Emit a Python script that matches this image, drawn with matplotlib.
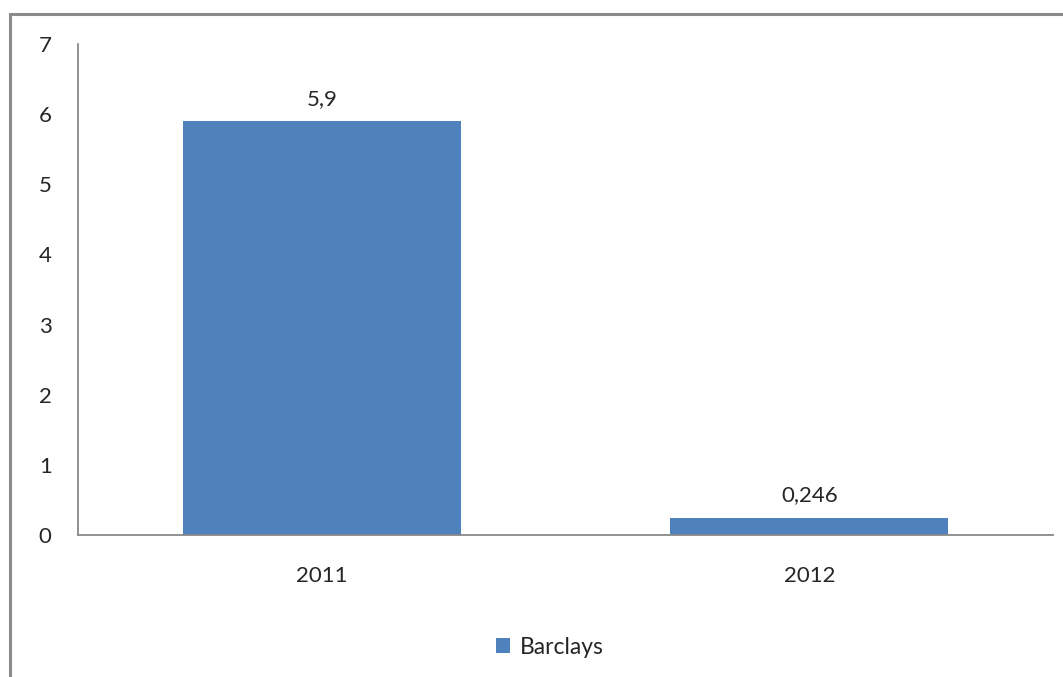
import matplotlib.pyplot as plt
from matplotlib.patches import Rectangle
from matplotlib.ticker import MultipleLocator

years = ['2011', '2012']
values = [5.9, 0.246]
value_labels = ['5,9', '0,246']
series_name = 'Barclays'

plt.rcParams['font.family'] = ['Lato', 'DejaVu Sans']

fig = plt.figure(figsize=(10.63, 6.77), dpi=100)
ax = fig.add_axes([0.0734, 0.2097, 0.9172, 0.7253])

bar_color = '#4F81BD'
spine_color = '#898989'
text_color = '#262626'

bars = ax.bar(years, values, width=0.57, color=bar_color, label=series_name)
ax.set_xlim(-0.5, 1.5)
ax.set_ylim(0, 7)
ax.yaxis.set_major_locator(MultipleLocator(1))

for b, lab in zip(bars, value_labels):
    ax.annotate(lab, (b.get_x() + b.get_width() / 2, b.get_height()),
                xytext=(0, 9), textcoords='offset points',
                ha='center', va='bottom', fontsize=16, color=text_color)

for side in ['top', 'right']:
    ax.spines[side].set_visible(False)
for side in ['left', 'bottom']:
    ax.spines[side].set_color(spine_color)
    ax.spines[side].set_linewidth(1.3)

ax.tick_params(axis='both', length=0, labelsize=16, labelcolor=text_color)
ax.tick_params(axis='y', pad=19)
ax.tick_params(axis='x', pad=22)

fig.legend(loc='center', bbox_to_anchor=(0.517, 0.044), frameon=False,
           fontsize=16.5, handlelength=0.65, handleheight=0.65, handletextpad=0.4,
           labelcolor=text_color)

# outer chart frame
fig.patches.append(Rectangle((10 / 1063, -0.05), 1.1, (677 - 14) / 677 + 0.05,
                             transform=fig.transFigure, fill=False,
                             edgecolor='#8a8a8a', linewidth=2.2))

fig.savefig('out.png', dpi=100)
